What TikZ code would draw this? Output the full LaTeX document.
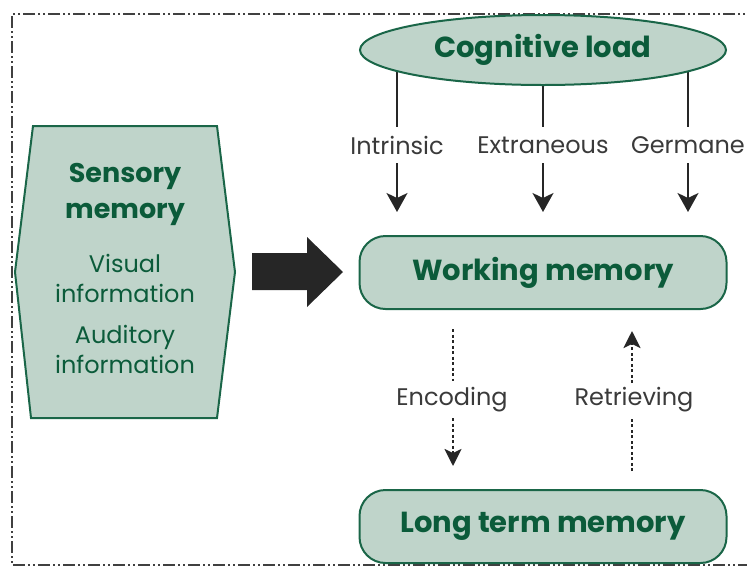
\documentclass[tikz,border=0pt]{standalone}
\usepackage{fontspec}
\setmainfont{Poppins}
\usetikzlibrary{arrows.meta,calc,backgrounds,shapes.geometric}
\definecolor{boxfill}{HTML}{BFD4CA}
\definecolor{boxline}{HTML}{1A6648}
\definecolor{boxtext}{HTML}{0B5B3A}
\definecolor{labtext}{HTML}{3A3A3A}
\definecolor{arrcol}{HTML}{262626}
\tikzset{
  titletext/.style={text=boxtext,font=\fontsize{29}{34}\selectfont\bfseries},
  roundbox/.style={draw=boxline,fill=boxfill,line width=2pt,rounded corners=26pt,
    minimum width=367pt,minimum height=73pt,inner sep=0pt,titletext},
  labeltext/.style={text=labtext,font=\fontsize{24}{28}\selectfont,inner sep=1pt},
  solidarrow/.style={draw=arrcol,line width=2pt,-{Stealth[length=19pt,width=21pt,inset=5pt]}},
  plainline/.style={draw=arrcol,line width=2pt},
  dotline/.style={draw=arrcol,line width=2.6pt,dash pattern=on 3pt off 2.5pt},
  dotarrow/.style={dotline,-{Stealth[length=17pt,width=17pt,inset=4pt]}},
  frameline/.style={draw=black!75,line width=2pt,dash pattern=on 12pt off 3pt on 2pt off 3pt on 2pt off 3pt}
}
\begin{document}
\begin{tikzpicture}[x=1pt,y=-1pt]
\clip (0,0) rectangle (747,574);
% frame
\coordinate (f1) at (760,14);
\coordinate (f2) at (12,14);
\coordinate (f3) at (12,565);
\coordinate (f4) at (760,565);
\draw[frameline] (f1) -- (f2) -- (f3) -- (f4);
% cognitive load
\node[ellipse,draw=boxline,fill=boxfill,line width=2pt,minimum width=366pt,minimum height=70pt,inner sep=0pt,titletext] (cl) at (543,50) {Cognitive load};
% labels
\node[labeltext] (intr) at (397,145) {Intrinsic};
\node[labeltext] (extr) at (543,145) {Extraneous};
\node[labeltext] (germ) at (688,145) {Germane};
% working memory
\node[roundbox] (wm) at (543,272.5) {Working memory};
% long term memory
\node[roundbox] (ltm) at (543,526.5) {Long term memory};
% lines from cognitive load
\begin{scope}[on background layer]
\draw[plainline] (intr |- cl.center) -- (397,127);
\draw[plainline] (extr |- cl.center) -- (543,127);
\draw[plainline] (germ |- cl.center) -- (688,127);
\end{scope}
\draw[solidarrow] (397,163) -- ($(wm.north -| intr)+(0,-23)$);
\draw[solidarrow] (543,163) -- ($(wm.north -| extr)+(0,-23)$);
\draw[solidarrow] (688,163) -- ($(wm.north -| germ)+(0,-23)$);
% encoding / retrieving
\node[labeltext] (enc) at (452,400) {Encoding};
\node[labeltext] (ret) at (634,400) {Retrieving};
\coordinate (encx) at (453,400);
\coordinate (retx) at (632,400);
\draw[dotline] ($(wm.south -| encx)+(0,19)$) -- (453,381);
\draw[dotarrow] (453,418) -- ($(ltm.north -| encx)+(0,-23)$);
\draw[dotline] ($(ltm.north -| retx)+(0,-18)$) -- (632,418);
\draw[dotarrow] (632,383) -- ($(wm.south -| retx)+(0,21)$);
% sensory memory
\fill[boxfill] (33,126) -- (217,126) -- (235,272) -- (217,418) -- (31,418) -- (15,272) -- cycle;
\draw[boxline,line width=2pt,line join=miter] (33,126) -- (217,126) -- (235,272) -- (217,418) -- (31,418) -- (15,272) -- cycle;
\node[text=boxtext,align=center,font=\fontsize{27}{36}\selectfont\bfseries] (senst) at (125,194) {Sensory\\memory};
\node[text=boxtext,align=center,font=\fontsize{24}{30}\selectfont] (vis) at (125,278) {Visual\\information};
\node[text=boxtext,align=center,font=\fontsize{24}{30}\selectfont] (aud) at (125,349) {Auditory\\information};
% big arrow
\fill[arrcol] (252,253) -- (307,253) -- (307,237) -- (343,272) -- (307,307) -- (307,290) -- (252,290) -- cycle;
\end{tikzpicture}
\end{document}
